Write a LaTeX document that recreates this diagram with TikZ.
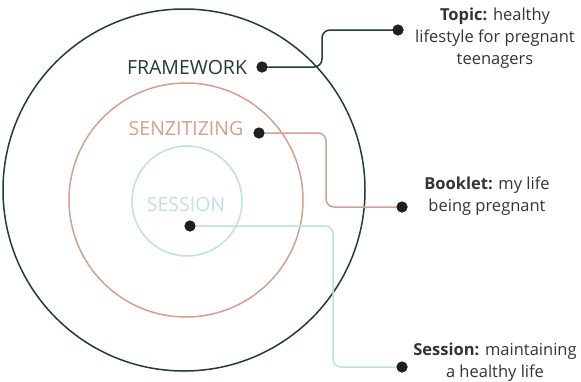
\documentclass[tikz,border=0pt]{standalone}
\usepackage{fontspec}
\setmainfont{Open Sans}
\usetikzlibrary{positioning}

\definecolor{fwgreen}{HTML}{1F3D35}
\definecolor{snsalmon}{HTML}{D3A090}
\definecolor{sesteal}{HTML}{BDE2DD}
\definecolor{dotblack}{HTML}{231F20}
\definecolor{txtgray}{HTML}{333333}

\tikzset{
  dot/.style={circle, fill=dotblack, inner sep=0pt, minimum size=11pt},
  ringlabel/.style={font=\fontsize{19.5}{21}\selectfont},
  infotext/.style={align=center, text=txtgray, font=\fontsize{16.5}{22}\selectfont},
  link/.style={line width=1.5pt, rounded corners=8pt}
}

\begin{document}
\begin{tikzpicture}[x=1pt, y=-1pt]
    \useasboundingbox (0,0) rectangle (581,381);

    % The three nested rings
    \draw[fwgreen, line width=1.5pt] (184,190) circle (181);
    \draw[snsalmon, line width=1.5pt] (186,200) circle (117);
    \draw[sesteal, line width=1.5pt] (187,201) circle (55);

    % Ring labels
    \node[ringlabel, text=fwgreen] (framework) at (187,68) {FRAMEWORK};
    \node[ringlabel, text=snsalmon] (senzitizing) at (186,129) {SENZITIZING};
    \node[ringlabel, text=sesteal] (session) at (186,205) {SESSION};

    % Black dots at both ends of each connector
    \node[dot] (fwdot) at (262,67) {};
    \node[dot] (sndot) at (259,133) {};
    \node[dot] (sesdot) at (190,226) {};
    \node[dot] (topicdot) at (398,30) {};
    \node[dot] (bookletdot) at (402,207) {};
    \node[dot] (sessiondot) at (402,367) {};

    % Connectors with rounded bends
    \draw[link, fwgreen] (fwdot.center) -| (322,30) -- (topicdot.center);
    \draw[link, snsalmon] (sndot.center) -| (326,207) -- (bookletdot.center);
    \draw[link, sesteal] (sesdot.center) -| (333,367) -- (sessiondot.center);

    % redraw dots on top of the lines
    \foreach \d in {fwdot, sndot, sesdot, topicdot, bookletdot, sessiondot}
        \fill[dotblack] (\d) circle (5.5);

    % Descriptions
    \node[infotext] (topic) at (495,38) {\textbf{Topic:} healthy\\lifestyle for pregnant\\teenagers};
    \node[infotext] (booklet) at (487,196) {\textbf{Booklet:} my life\\being pregnant};
    \node[infotext] (sessiontext) at (495,362) {\textbf{Session:} maintaining\\a healthy life};

\end{tikzpicture}
\end{document}
